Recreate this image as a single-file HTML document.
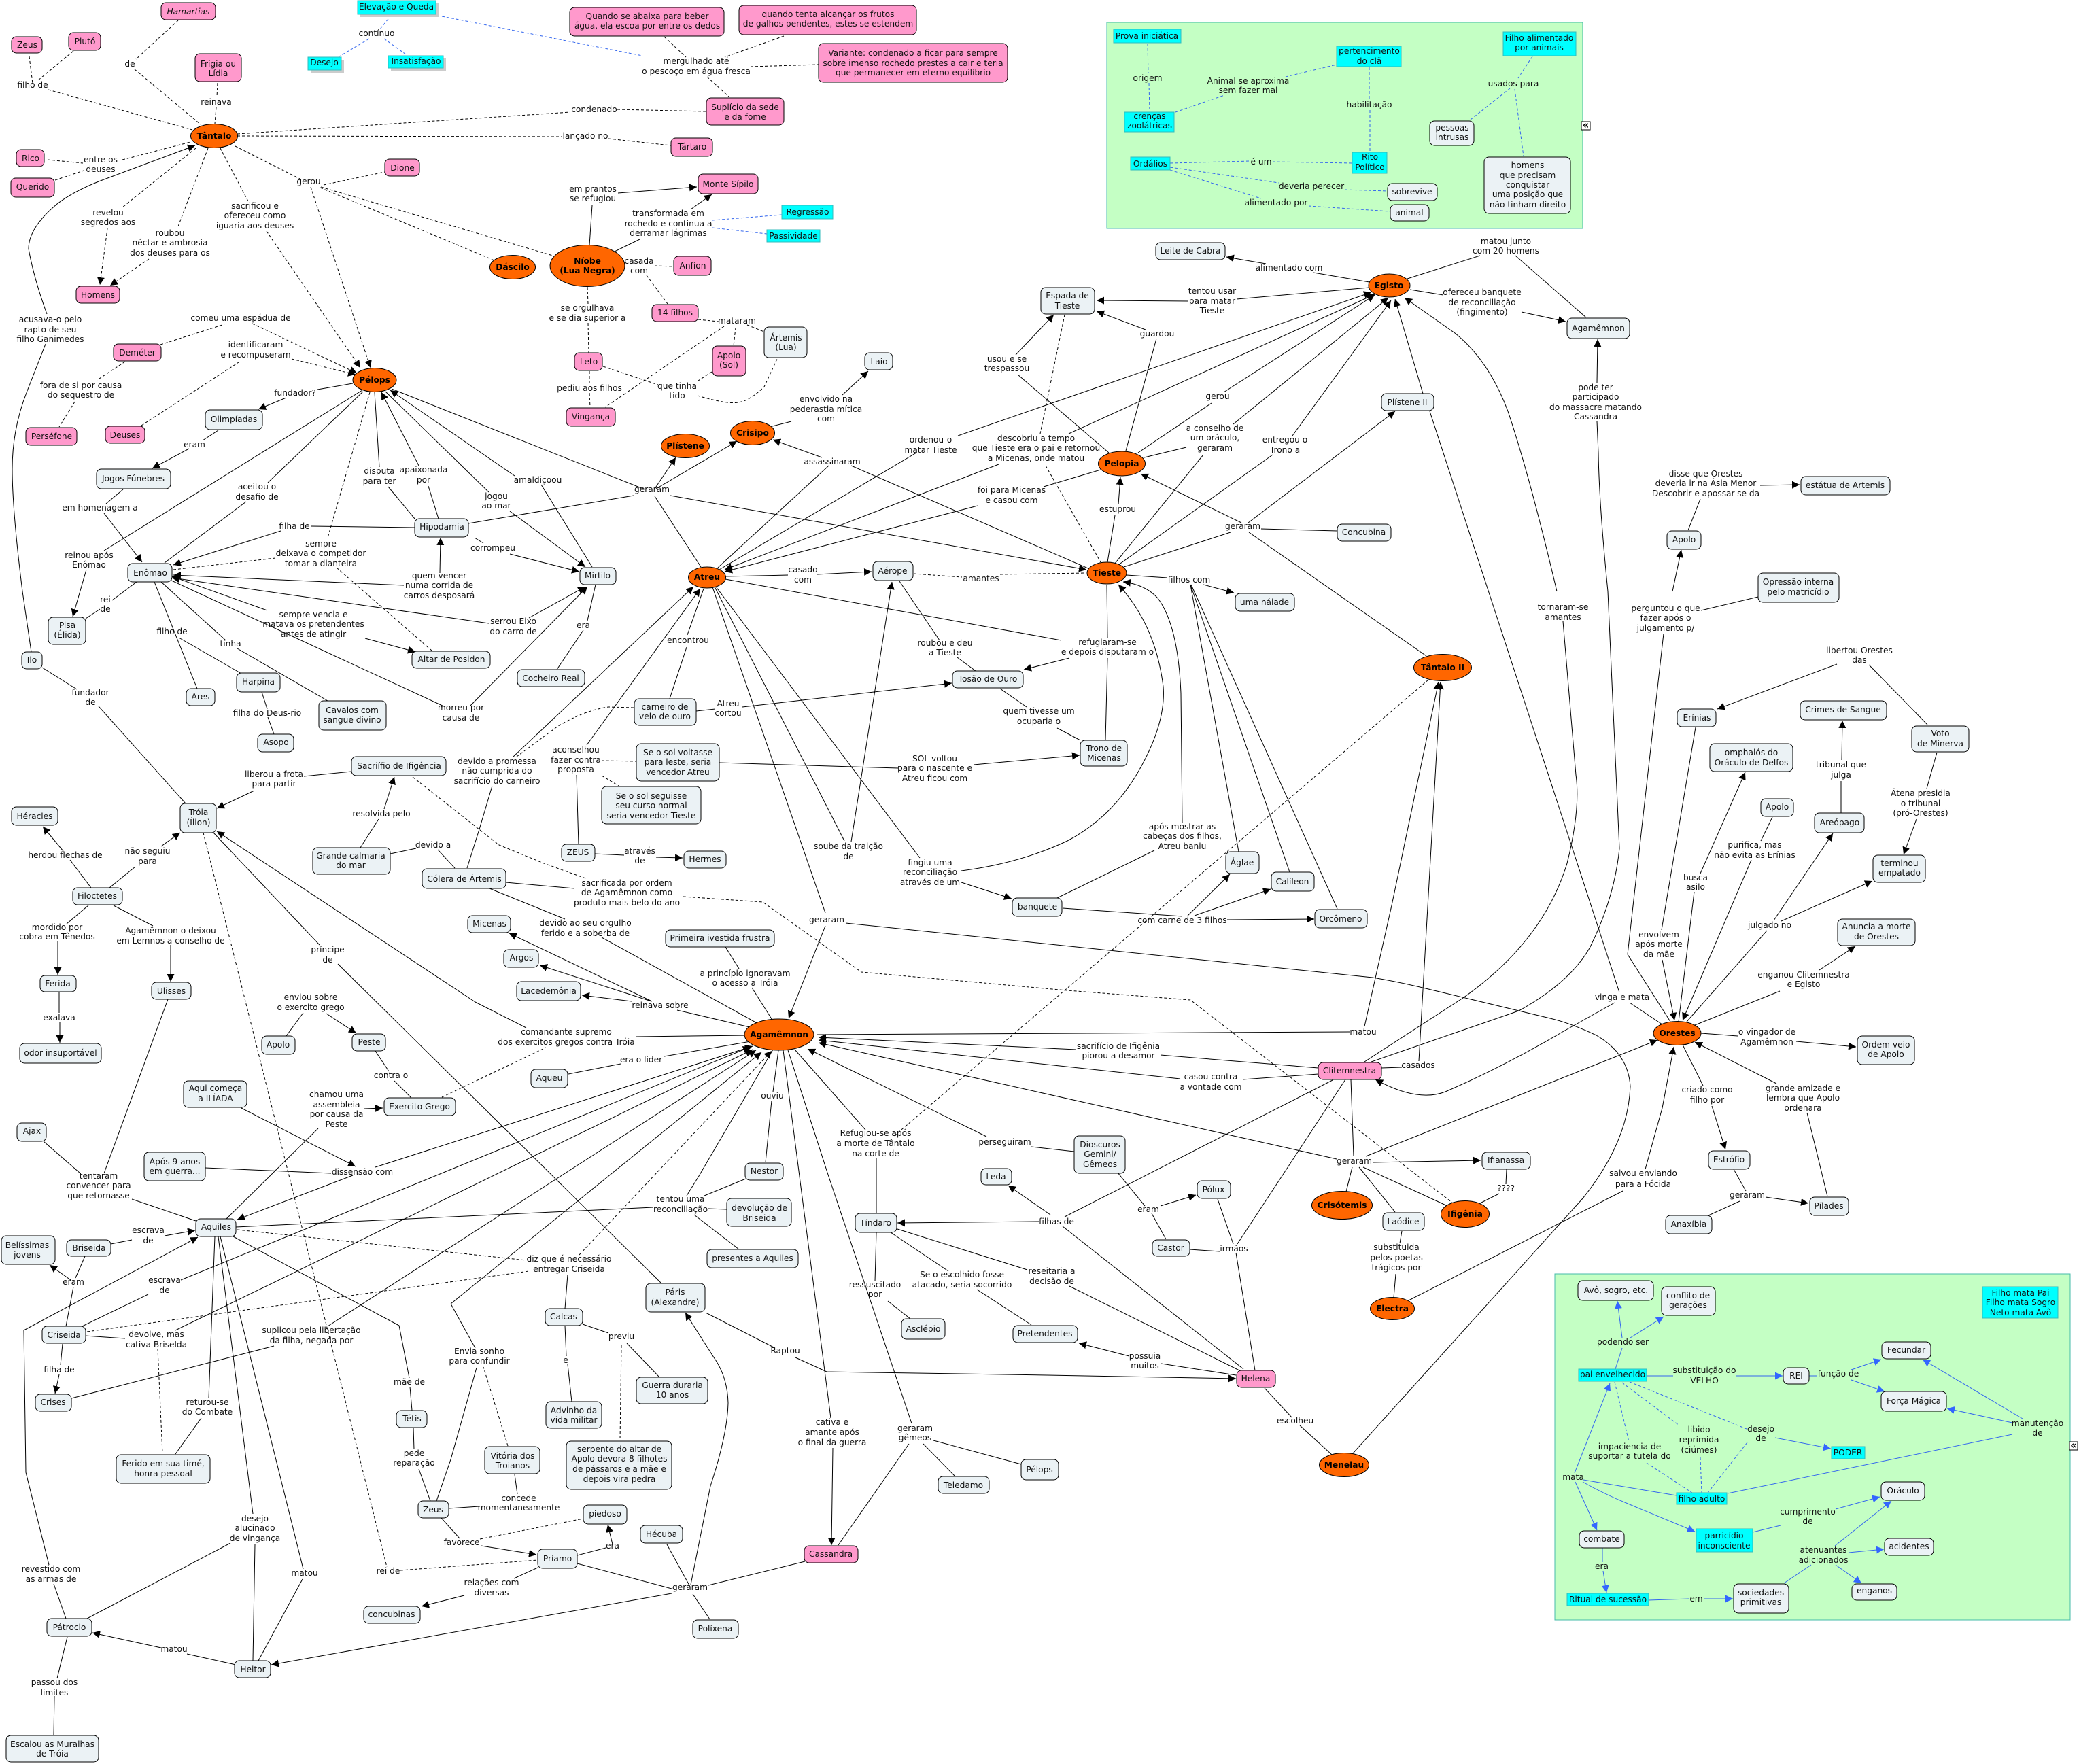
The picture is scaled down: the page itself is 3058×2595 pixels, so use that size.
<!DOCTYPE html>
<html lang="pt"><head><meta charset="utf-8"><title>Mapa conceitual</title>
<style>
html,body{margin:0;padding:0;background:#fff}
svg{display:block}
text{font:12.2px "DejaVu Sans","Liberation Sans",sans-serif;text-anchor:middle;dominant-baseline:central;fill:#111}
.b{font-weight:bold;fill:#000}
.i{font-style:italic}
path{fill:none;stroke:#000;stroke-width:1;stroke-linejoin:round}
.d path,.da path{stroke-dasharray:4 3}
.a path,.da path{marker-end:url(#m)}
.u path,.ua path,.ud path{stroke:#3366ee}
.ud path{stroke-dasharray:4 3}
.ua path{marker-end:url(#mb)}
.n rect{fill:#ebf2f5;stroke:#000;rx:7px;ry:7px}
.p rect{fill:#ff99cc;stroke:#000;rx:7px;ry:7px}
.c rect{fill:#00ffff;stroke:#33bbbb}
.sh rect{fill:#ccc}
.e ellipse{fill:#ff6600;stroke:#000}
</style></head><body>
<svg width="3058" height="2595" viewBox="0 0 3058 2595" xmlns="http://www.w3.org/2000/svg">
<defs>
<marker id="m" markerUnits="userSpaceOnUse" markerWidth="12" markerHeight="12" refX="11" refY="5.5" orient="auto"><path d="M0 0L11 5.5 0 11Z" style="fill:#000;stroke:none;stroke-dasharray:none"/></marker>
<marker id="mb" markerUnits="userSpaceOnUse" markerWidth="12" markerHeight="12" refX="11" refY="5.5" orient="auto"><path d="M0 0L11 5.5 0 11Z" style="fill:#3366ff;stroke:none;stroke-dasharray:none"/></marker>
</defs>
<rect x="1628" y="33" width="700" height="303" fill="#c4ffc4" stroke="#44bbaa"/>
<rect x="2287" y="1874" width="758" height="509" fill="#c4ffc4" stroke="#44bbaa"/>
<g class="sh"><rect x="530" y="5" width="115" height="20"/><rect x="457" y="88" width="49" height="19"/><rect x="575" y="86" width="81" height="18"/></g>

<g class="d">
<path d="M43 83L48 123"/><path d="M108 75L55 119"/><path d="M71 132L283 191"/><path d="M262 30L200 87"/><path d="M198 102L295 183"/>
<path d="M320 122L319 143"/><path d="M318 158L316 182"/><path d="M70 235L122 240"/><path d="M81 265L123 251"/><path d="M180 235L280 209"/>
<path d="M288 218L180 305"/><path d="M306 218L262 333"/><path d="M324 218L365 296"/><path d="M346 215L443 264"/><path d="M476 272L566 253"/>
<path d="M471 276L727 383"/><path d="M472 275L813 376"/><path d="M349 197L839 165"/><path d="M908 161L1039 164"/><path d="M349 200L826 201"/><path d="M895 204L987 214"/>
<path d="M236 507L330 477"/><path d="M208 626L354 531"/><path d="M184 532L143 559"/><path d="M110 591L87 628"/>
<path d="M544 577L482 791"/><path d="M405 821L255 838"/><path d="M495 835L635 957"/>
<path d="M932 1041L895 1040Q860 1045 821 1068L760 1113"/>
<path d="M607 1143L734 1243 800 1270 864 1293"/>
<path d="M1005 1319L1122 1327 1267 1430 1570 1457 1751 1471 2136 1769"/>
<path d="M650 1614L803 1541"/>
<path d="M299 1225L569 2305"/>
<path d="M128 1959L778 1870"/><path d="M349 1809L774 1854"/>
<path d="M747 2127L711 2011"/><path d="M706 2264L858 2234"/><path d="M589 2310L791 2295"/>
<path d="M232 1984L239 2138"/><path d="M914 1979L912 2119"/>
<path d="M977 54L1009 84"/><path d="M1153 53L1066 84"/><path d="M1104 98L1204 95"/><path d="M1040 113L1073 143"/>
<path d="M963 391L991 392"/><path d="M951 405L982 447"/><path d="M864 422L865 447"/><path d="M865 475L866 519"/><path d="M867 546L867 565"/><path d="M867 578L868 599"/>
<path d="M1027 470L1057 473"/><path d="M1099 478L1124 488"/><path d="M1082 482L1079 509"/><path d="M1065 480L890 599"/>
<path d="M887 539L968 566"/><path d="M1047 547L1024 562"/><path d="M1026 582Q1070 595 1086 592Q1102 590 1124 569L1144 526"/>
<path d="M1566 463L1530 638"/><path d="M1538 685L1619 827"/><path d="M1344 844L1415 849"/><path d="M1471 845L1597 843"/>
<path d="M885 1119L936 1120"/><path d="M885 1141L910 1156"/>
<path d="M2101 1000L1313 1673"/>
</g>
<g class="da">
<path d="M158 336L147 419"/><path d="M219 381L162 420"/><path d="M392 340L530 541"/><path d="M457 275L545 541"/>
<path d="M371 476L525 549"/><path d="M429 528L523 551"/>
<path d="M852 1846L1135 1546"/>
</g>
<g class="ud">
<path d="M650 24L945 82"/><path d="M571 28L558 44"/><path d="M543 57L499 83"/><path d="M565 57L597 80"/>
<path d="M1048 324L1150 316"/><path d="M1048 335L1128 344"/>
<path d="M1688 64L1689 108"/><path d="M1690 122L1691 164"/><path d="M1729 165L1801 140"/><path d="M1891 113L1966 95"/>
<path d="M2014 99L2014 147"/><path d="M2015 162L2015 223"/><path d="M2254 83L2233 115"/><path d="M2221 130L2163 176"/><path d="M2228 131L2241 230"/>
<path d="M1721 240L1839 237"/><path d="M1872 238L1989 240"/><path d="M1721 246L1881 269"/><path d="M1978 279L2041 281"/><path d="M1721 250L1855 292"/><path d="M1925 303L2045 311"/>
<path d="M2375 2033L2396 2121"/><path d="M2386 2034L2470 2097"/><path d="M2397 2033L2569 2102"/><path d="M2422 2152L2489 2196"/><path d="M2501 2144L2503 2196"/><path d="M2570 2122L2512 2196"/>
</g>
<g class="u">
<path d="M2376 2014L2386 1983"/><path d="M2423 2024L2461 2024"/><path d="M2661 2024L2673 2024"/><path d="M2541 2197L2960 2110"/>
<path d="M2329 2177L2466 2200"/><path d="M2578 2254L2619 2244"/><path d="M2624 2329L2664 2302"/><path d="M2357 2277L2357 2298"/><path d="M2425 2354L2485 2352"/>
</g>
<g class="ua">
<path d="M2386 1968L2379 1914"/><path d="M2398 1968L2447 1937"/><path d="M2554 2024L2622 2024"/><path d="M2723 2015L2767 2000"/><path d="M2723 2030L2772 2047"/>
<path d="M2975 2087L2828 2000"/><path d="M2960 2093L2864 2072"/><path d="M2611 2115L2693 2131"/>
<path d="M2316 2167L2368 2035"/><path d="M2317 2180L2349 2251"/><path d="M2328 2180Q2360 2198 2392 2211L2493 2253"/>
<path d="M2700 2220L2765 2202"/><path d="M2699 2274L2782 2208"/><path d="M2719 2284L2771 2279"/><path d="M2700 2302L2738 2329"/>
<path d="M2358 2311L2363 2343"/><path d="M2506 2352L2549 2352"/>
</g>
<g class="s">
<path d="M67 506L40 575Q18 630 18 690Q18 750 33 870L46 959"/>
<path d="M519 564L467 573"/><path d="M321 633L298 648"/><path d="M181 720L156 741"/>
<path d="M533 574L153 810"/><path d="M534 576L394 710"/><path d="M362 738L242 828"/>
<path d="M551 577L558 687"/><path d="M571 716L610 763"/><path d="M645 763L630 715"/>
<path d="M719 724L567 576"/><path d="M796 713L871 834"/>
<path d="M576 572L946 719"/><path d="M689 770L932 729"/><path d="M963 730L1031 834"/>
<path d="M610 776L457 774"/><path d="M698 791L711 799"/>
<path d="M201 856L165 883"/><path d="M147 896L126 910"/><path d="M227 856L290 1013"/><path d="M263 938L357 992"/><path d="M237 856L332 942"/><path d="M349 954L482 1031"/>
<path d="M250 853L655 1040"/><path d="M385 1018L393 1043"/><path d="M394 1055L403 1080"/>
<path d="M62 982L113 1014"/><path d="M145 1039L273 1182"/><path d="M517 1135L447 1142"/><path d="M530 1247L557 1205"/>
<path d="M574 1256L612 1248"/><path d="M644 1250L669 1277"/><path d="M687 1277L705 1220 724 1156"/>
<path d="M744 1298L845 1307"/><path d="M720 1307L831 1352"/>
<path d="M314 1225L470 1390"/><path d="M497 1418L972 1887"/>
<path d="M134 1306L103 1265"/><path d="M161 1306L199 1275"/><path d="M130 1332L98 1359"/><path d="M87 1459L87 1490"/><path d="M167 1332L225 1362"/>
<path d="M247 1470L153 1726"/><path d="M64 1679L118 1726"/><path d="M194 1764L288 1796"/>
<path d="M421 1524L446 1490"/><path d="M552 1546L572 1576"/><path d="M580 1590L605 1615"/>
<path d="M468 1660L333 1793"/><path d="M302 1718L487 1726"/>
<path d="M996 1486L1107 1512"/><path d="M885 1379L1117 1507"/>
<path d="M1067 1393L1087 1425"/><path d="M1106 1453L1135 1499"/><path d="M936 1525L1101 1523"/><path d="M836 1580L913 1565"/><path d="M977 1554L1104 1532"/>
<path d="M163 1830L194 1824"/><path d="M125 1848L111 1880"/><path d="M97 1951L108 1893"/><path d="M121 1951L218 1904"/><path d="M126 1965L184 1969"/>
<path d="M105 2057L403 1980"/>
<path d="M663 1918L699 1983"/><path d="M701 2012L663 2147 642 2208"/>
<path d="M343 1819L587 1950 602 2027"/><path d="M603 2040L606 2075"/><path d="M608 2100L609 2132"/><path d="M616 2161L633 2208"/>
<path d="M660 2219L705 2216"/><path d="M757 2169L761 2198"/><path d="M649 2233L676 2263"/><path d="M849 2288L891 2277"/><path d="M791 2306L756 2322"/>
<path d="M849 2300L988 2337"/><path d="M981 2272L1015 2334"/><path d="M1019 2345L1044 2382"/><path d="M1042 2332L1184 2297"/>
<path d="M347 2449L275 2433"/><path d="M321 1819L372 2227"/><path d="M339 2270L128 2381"/><path d="M375 2272L372 2443"/>
<path d="M324 1819L446 2308"/><path d="M445 2323L380 2443"/><path d="M316 1819L307 2057"/><path d="M296 2086L258 2139"/>
<path d="M92 1977L89 2008"/><path d="M97 2381L79 2330"/><path d="M99 2408L84 2469"/><path d="M80 2495L79 2553"/>
<path d="M831 1925L835 1875"/><path d="M831 1950L833 1995"/><path d="M835 2007L841 2062"/><path d="M857 1948L895 1961"/><path d="M922 1976L970 2026"/>
<path d="M1145 1545L1137 1606"/><path d="M1135 1619L1126 1710"/>
<path d="M1137 1544L1028 1730 1010 1759"/><path d="M1097 1734L1036 1759"/><path d="M961 1776L347 1805"/><path d="M1042 1778L1069 1779"/><path d="M1021 1787L1087 1838"/>
<path d="M1152 1545L1222 2086"/><path d="M1159 1545L1217 1725 1341 2094"/>
<path d="M1337 2124L1233 2273"/><path d="M1358 2124L1405 2172"/><path d="M1373 2119L1502 2154"/>
<path d="M1273 1662L1169 1544"/><path d="M1289 1704L1289 1785"/><path d="M1517 1687L1580 1694"/>
<path d="M1566 1790L1960 1589"/><path d="M1563 1804L1829 2014"/><path d="M1320 1808L1511 1868"/><path d="M1573 1892L1823 2016"/>
<path d="M1310 1813L1395 1870"/><path d="M1437 1897L1517 1949"/><path d="M1818 2023L1708 2006"/><path d="M1289 1813L1287 1885"/><path d="M1306 1914L1339 1940"/>
<path d="M1038 1931L1140 1983"/>
<path d="M1644 1725L1684 1774"/><path d="M1694 1785L1715 1823"/><path d="M1750 1838L1794 1841"/><path d="M1791 1764L1814 1830"/><path d="M1818 1843L1846 2016"/><path d="M1820 1830L1979 1588"/>
<path d="M1860 2042L1900 2085"/><path d="M1912 2097L1959 2140"/>
<path d="M1990 2138L2328 1763Q2395 1680 2398 1598Q2395 1550 2348 1523Q2310 1505 2280 1498L2101 1455Q2060 1445 2019 1438L1244 1358"/>
<path d="M1045 855L1214 1343"/>
<path d="M867 361L871 302"/><path d="M904 370L941 352"/>
<path d="M1136 627L1164 620"/><path d="M1252 685L1605 838"/><path d="M1219 685L1056 835"/><path d="M1058 838L1348 666"/>
<path d="M1535 716L1619 691"/><path d="M1497 551L1631 666"/>
<path d="M2014 415L1932 401"/><path d="M2014 423L1819 440"/><path d="M1656 663L1701 498"/><path d="M1674 666L1782 593"/>
<path d="M1683 673L1745 658"/><path d="M1639 830L1770 669"/><path d="M1645 831L1872 669"/>
<path d="M1653 834L1810 783"/><path d="M1967 781L1855 778"/><path d="M1837 783L2098 965"/>
<path d="M1629 827L1640 758"/><path d="M1657 846L1717 850"/>
<path d="M1751 860L1822 1253"/><path d="M1751 860L1897 1283"/><path d="M1752 860L1967 1337"/>
<path d="M1698 1251L1555 1321"/><path d="M1563 1336L1739 1348"/>
<path d="M1067 852L1561 942"/><path d="M1629 938L1628 860"/><path d="M1629 968L1626 1089"/>
<path d="M1471 1013L1510 1040"/><path d="M1555 1071L1589 1089"/><path d="M1323 855L1382 942"/><path d="M1408 967L1435 987"/>
<path d="M1067 848L1159 846"/><path d="M1051 863L1242 1237"/><path d="M1053 863L1353 1262"/>
<path d="M985 1028L1010 952"/><path d="M1011 934L1035 866"/><path d="M1024 1046L1052 1043"/>
<path d="M876 860L864 913"/><path d="M858 927L819 985"/><path d="M848 1140L851 1242"/><path d="M875 1256L918 1258"/><path d="M1058 1122L1321 1130"/>
<path d="M1202 1522L1985 1518"/><path d="M2032 1571L2062 1570"/><path d="M1707 1552L1939 1571"/><path d="M1828 1588L1939 1580"/>
<path d="M1987 1588L1991 1701"/><path d="M2216 1720L2215 1742"/><path d="M2205 1756L2177 1770"/>
<path d="M2062 1811L2059 1829"/><path d="M2053 1874L2050 1909"/><path d="M1989 1717L1980 1753"/><path d="M1999 1717L2052 1783"/><path d="M2005 1717L2129 1774"/>
<path d="M2072 1913L2387 1752"/>
<path d="M2397 1475L2445 1507"/>
<path d="M2007 1562L2152 1468Q2270 1385 2305 1270Q2325 1190 2318 1140L2299 914"/>
<path d="M2017 1562L2234 1487Q2310 1445 2339 1393Q2375 1320 2382 1248L2365 870Q2352 740 2351 666L2349 620"/>
<path d="M2074 426L2123 434"/><path d="M2070 410L2177 376"/><path d="M2229 376L2333 467"/>
<path d="M2103 605L2382 1460"/>
<path d="M2501 734L2483 780"/><path d="M2586 878L2502 898"/><path d="M2447 932L2394 1404 2457 1503"/><path d="M2749 978L2835 1066"/>
<path d="M2708 1196L2708 1149"/><path d="M2849 1107L2834 1160"/><path d="M2494 1070L2444 1368"/><path d="M2492 1312L2469 1503"/>
<path d="M2607 1202L2590 1237"/><path d="M2599 1369L2481 1503"/><path d="M2618 1458L2493 1508"/><path d="M2502 1520L2556 1524"/><path d="M2475 1537L2505 1597"/>
<path d="M2658 1637L2688 1760"/><path d="M2550 1720L2568 1752"/><path d="M2513 1788L2559 1767"/>
</g>
<g class="a">
<path d="M69 462Q50 410 42 366Q42 335 84 300Q110 280 153 264L287 214"/>
<path d="M421 585L380 602"/><path d="M278 660L224 689"/><path d="M153 755L209 827"/><path d="M127 838L107 907"/>
<path d="M616 685L561 577"/><path d="M750 752L861 834"/><path d="M757 700L574 574"/>
<path d="M963 719L994 673"/><path d="M965 719L1084 649"/><path d="M986 729L1598 838"/>
<path d="M413 781L255 831"/><path d="M647 843L648 791"/><path d="M594 861L255 846"/><path d="M750 815L852 841"/>
<path d="M393 898L253 848"/><path d="M537 939L611 959"/><path d="M691 1039L864 863"/><path d="M719 917L253 850"/><path d="M778 909L861 863"/>
<path d="M374 1163L319 1189"/><path d="M565 1190L580 1143"/>
<path d="M754 1114L1020 863"/><path d="M863 1096L1030 866"/>
<path d="M959 1473L749 1373"/><path d="M958 1473L794 1420"/><path d="M929 1473L856 1464"/>
<path d="M774 1512L699 1474 319 1223"/>
<path d="M93 1252L63 1216"/><path d="M237 1245L265 1225"/><path d="M85 1384L85 1434"/><path d="M88 1504L88 1534"/><path d="M251 1390L251 1444"/>
<path d="M480 1491L524 1520"/><path d="M536 1631L563 1630"/><path d="M355 1630L523 1716"/>
<path d="M552 1717L1107 1539"/><path d="M519 1729L349 1794"/>
<path d="M242 1818L287 1810"/><path d="M104 1883L73 1861"/><path d="M266 1883L1104 1540"/><path d="M258 1957L1107 1544"/><path d="M482 1951L1112 1545"/><path d="M663 1918L1120 1548"/>
<path d="M708 2274L789 2287"/><path d="M901 2272L894 2243"/><path d="M683 2347L620 2363"/>
<path d="M988 2344L399 2449"/>
<path d="M1016 2331L1045 2186Q1070 2110 1071 2064Q1070 2025 1050 1997L1008 1931"/>
<path d="M237 2424L136 2402"/><path d="M87 2022L81 2050"/>
<path d="M72 2302L38 2166 35 1957 291 1820"/>
<path d="M1225 2130L1223 2273"/>
<path d="M1451 1672L1188 1543"/><path d="M1529 1797L1320 1799"/><path d="M1545 1787L1483 1744"/>
<path d="M1661 1995L1587 1976"/><path d="M1170 1997L1216 2018 1540 2023 1818 2028"/>
<path d="M1707 1774L1759 1758"/>
<path d="M1214 1362L1160 1498"/>
<path d="M909 284L1025 275"/><path d="M1016 308L1047 286"/>
<path d="M1239 581L1277 546"/><path d="M1209 673L1137 647"/>
<path d="M1409 641L2017 430"/><path d="M1469 683L1066 838"/><path d="M1572 638L2022 433"/>
<path d="M1438 744L1066 841"/><path d="M1494 522L1550 463"/>
<path d="M1862 388L1804 378"/><path d="M1748 443L1613 442"/><path d="M1685 485L1613 458"/>
<path d="M1800 577L2022 434"/><path d="M1814 624L2042 438"/><path d="M1901 641L2046 442"/><path d="M2093 579L2052 440"/>
<path d="M1836 769L2052 605"/><path d="M1826 769L1678 697"/><path d="M1645 742L1648 702"/>
<path d="M1770 860L1815 872"/>
<path d="M1739 1210L1737 1020Q1733 920 1703 880Q1685 860 1652 856"/>
<path d="M1747 1347L1809 1286"/><path d="M1757 1347L1869 1308"/><path d="M1805 1353L1933 1352"/>
<path d="M1573 968L1506 985"/><path d="M1202 845L1282 841"/><path d="M1252 1238L1312 856"/>
<path d="M1414 1281Q1500 1270 1570 1237Q1640 1200 1680 1125Q1715 1060 1711 1010Q1700 920 1645 860"/>
<path d="M1414 1298L1488 1322"/><path d="M1092 1040L1400 1005"/><path d="M965 1261L1004 1262"/><path d="M1432 1125L1588 1111"/>
<path d="M2007 1510L2047 1332 2116 1003"/><path d="M2087 1561L2119 1003"/>
<path d="M1583 1544L1204 1526"/><path d="M1736 1587L1204 1530"/><path d="M1966 1705L1204 1534"/><path d="M2019 1710L2178 1707"/>
<path d="M2009 1701L2438 1530"/><path d="M2420 1720L2445 1630 2462 1540"/>
<path d="M2375 1475L2300 1517Q2210 1570 2126 1606Q2085 1622 2023 1588"/>
<path d="M2290 870Q2250 700 2218 605Q2190 530 2140 490L2066 438"/>
<path d="M2349 563L2350 499"/><path d="M2238 459L2303 473"/>
<path d="M2589 714L2647 713"/><path d="M2460 870L2473 809"/><path d="M2702 977L2526 1043"/>
<path d="M2709 1118L2710 1060"/><path d="M2819 1205L2800 1257"/><path d="M2445 1412L2463 1501"/><path d="M2501 1285L2567 1136"/>
<path d="M2576 1265L2475 1501"/><path d="M2609 1354L2696 1226"/><path d="M2620 1355L2754 1296"/><path d="M2676 1427L2729 1392"/>
<path d="M2642 1532L2730 1540"/><path d="M2518 1627L2538 1691"/><path d="M2613 1594L2493 1533"/><path d="M2597 1761L2660 1770"/>
</g>

<g class="c">
<rect x="526" y="1" width="115" height="20"/><rect x="453" y="84" width="49" height="19"/><rect x="571" y="82" width="81" height="18"/>
<rect x="1150" y="302" width="75" height="20"/><rect x="1128" y="338" width="78" height="18"/>
<rect x="1638" y="43" width="99" height="20"/><rect x="1966" y="68" width="95" height="30"/><rect x="2211" y="47" width="107" height="35"/>
<rect x="1654" y="165" width="73" height="29"/><rect x="1663" y="231" width="58" height="19"/><rect x="1989" y="224" width="51" height="31"/>
<rect x="2916" y="1893" width="111" height="46"/><rect x="2322" y="2014" width="100" height="18"/><rect x="2694" y="2128" width="49" height="18"/>
<rect x="2466" y="2196" width="74" height="17"/><rect x="2495" y="2249" width="83" height="34"/><rect x="2305" y="2344" width="120" height="18"/>
</g>
<g class="p">
<rect x="237" y="4" width="80" height="25"/><rect x="17" y="54" width="45" height="24"/><rect x="101" y="48" width="47" height="26"/><rect x="287" y="79" width="68" height="41"/>
<rect x="24" y="220" width="41" height="25"/><rect x="16" y="262" width="64" height="28"/><rect x="112" y="421" width="64" height="25"/><rect x="566" y="234" width="51" height="25"/>
<rect x="167" y="506" width="70" height="25"/><rect x="38" y="629" width="75" height="26"/><rect x="155" y="627" width="58" height="25"/>
<rect x="838" y="11" width="227" height="42"/><rect x="1087" y="8" width="261" height="43"/><rect x="1204" y="64" width="278" height="57"/>
<rect x="1039" y="144" width="114" height="40"/><rect x="987" y="203" width="61" height="27"/><rect x="1027" y="256" width="88" height="29"/>
<rect x="991" y="377" width="55" height="28"/><rect x="959" y="448" width="68" height="25"/><rect x="845" y="519" width="41" height="26"/><rect x="833" y="600" width="72" height="27"/><rect x="1048" y="509" width="49" height="44"/>
<rect x="1183" y="2274" width="79" height="25"/><rect x="1939" y="1563" width="93" height="25"/><rect x="1819" y="2016" width="57" height="25"/>
</g>
<g class="n">
<rect x="302" y="603" width="84" height="29"/><rect x="142" y="690" width="109" height="29"/><rect x="610" y="763" width="79" height="27"/><rect x="188" y="829" width="65" height="27"/>
<rect x="71" y="908" width="55" height="40"/><rect x="274" y="1013" width="42" height="25"/><rect x="348" y="990" width="64" height="28"/><rect x="379" y="1080" width="53" height="26"/>
<rect x="469" y="1031" width="99" height="43"/><rect x="606" y="958" width="115" height="25"/><rect x="32" y="959" width="30" height="25"/><rect x="265" y="1182" width="53" height="43"/>
<rect x="517" y="1113" width="139" height="28"/><rect x="460" y="1247" width="114" height="39"/><rect x="621" y="1278" width="123" height="29"/>
<rect x="688" y="1347" width="63" height="25"/><rect x="741" y="1397" width="51" height="26"/><rect x="760" y="1444" width="94" height="28"/><rect x="979" y="1368" width="160" height="25"/><rect x="781" y="1573" width="54" height="27"/>
<rect x="107" y="1306" width="73" height="25"/><rect x="17" y="1187" width="68" height="27"/><rect x="59" y="1435" width="53" height="24"/><rect x="29" y="1535" width="120" height="29"/><rect x="223" y="1445" width="58" height="25"/>
<rect x="385" y="1524" width="49" height="27"/><rect x="518" y="1521" width="49" height="25"/><rect x="565" y="1615" width="105" height="26"/><rect x="270" y="1590" width="93" height="39"/><rect x="212" y="1695" width="90" height="42"/><rect x="25" y="1652" width="43" height="27"/>
<rect x="288" y="1793" width="59" height="26"/><rect x="98" y="1824" width="65" height="24"/><rect x="2" y="1818" width="79" height="42"/><rect x="62" y="1951" width="64" height="25"/><rect x="52" y="2051" width="53" height="25"/>
<rect x="171" y="2140" width="138" height="42"/><rect x="713" y="2128" width="81" height="40"/><rect x="615" y="2208" width="45" height="25"/><rect x="583" y="2075" width="45" height="25"/>
<rect x="535" y="2363" width="83" height="25"/><rect x="345" y="2443" width="53" height="25"/><rect x="69" y="2381" width="66" height="26"/><rect x="9" y="2553" width="136" height="39"/>
<rect x="791" y="2279" width="58" height="28"/><rect x="858" y="2214" width="64" height="28"/><rect x="942" y="2244" width="62" height="26"/><rect x="1019" y="2383" width="67" height="27"/>
<rect x="950" y="1888" width="87" height="42"/><rect x="802" y="1925" width="55" height="25"/><rect x="803" y="2062" width="82" height="39"/><rect x="936" y="2026" width="105" height="39"/><rect x="833" y="2120" width="155" height="71"/>
<rect x="1096" y="1711" width="56" height="25"/><rect x="1069" y="1763" width="95" height="41"/><rect x="1040" y="1838" width="134" height="27"/>
<rect x="1380" y="2172" width="75" height="25"/><rect x="1502" y="2147" width="55" height="30"/>
<rect x="1258" y="1785" width="61" height="28"/><rect x="1580" y="1671" width="75" height="55"/><rect x="1443" y="1719" width="45" height="24"/><rect x="1490" y="1950" width="95" height="25"/><rect x="1326" y="1940" width="64" height="30"/>
<rect x="1761" y="1737" width="49" height="26"/><rect x="1695" y="1824" width="55" height="24"/>
<rect x="853" y="835" width="53" height="25"/><rect x="1124" y="481" width="63" height="45"/><rect x="1272" y="519" width="41" height="25"/>
<rect x="1531" y="423" width="79" height="39"/><rect x="1700" y="357" width="102" height="25"/><rect x="2032" y="579" width="77" height="25"/><rect x="1967" y="771" width="79" height="25"/>
<rect x="1817" y="873" width="87" height="26"/><rect x="1803" y="1253" width="49" height="32"/><rect x="1870" y="1283" width="63" height="28"/><rect x="1934" y="1338" width="77" height="27"/><rect x="1489" y="1321" width="73" height="27"/>
<rect x="1589" y="1089" width="69" height="38"/><rect x="1401" y="987" width="104" height="25"/><rect x="1284" y="826" width="59" height="28"/><rect x="933" y="1028" width="91" height="39"/>
<rect x="761" y="985" width="99" height="25"/><rect x="936" y="1094" width="122" height="55"/><rect x="885" y="1157" width="146" height="55"/><rect x="826" y="1242" width="49" height="25"/><rect x="1006" y="1252" width="62" height="25"/>
<rect x="2180" y="1695" width="71" height="25"/><rect x="2034" y="1784" width="61" height="26"/>
<rect x="2305" y="468" width="92" height="30"/><rect x="2649" y="701" width="131" height="27"/><rect x="2452" y="781" width="50" height="27"/><rect x="2586" y="843" width="119" height="43"/>
<rect x="2467" y="1043" width="57" height="26"/><rect x="2648" y="1031" width="127" height="28"/><rect x="2515" y="1094" width="122" height="41"/><rect x="2812" y="1068" width="84" height="38"/>
<rect x="2590" y="1175" width="48" height="26"/><rect x="2669" y="1196" width="73" height="29"/><rect x="2755" y="1258" width="77" height="40"/><rect x="2703" y="1352" width="114" height="39"/><rect x="2732" y="1524" width="84" height="42"/>
<rect x="2513" y="1693" width="61" height="27"/><rect x="2662" y="1761" width="57" height="27"/><rect x="2450" y="1788" width="68" height="27"/>
<rect x="2103" y="178" width="65" height="36"/><rect x="2183" y="231" width="127" height="83"/><rect x="2041" y="270" width="73" height="25"/><rect x="2045" y="301" width="57" height="24"/>
<rect x="2321" y="1884" width="111" height="29"/><rect x="2444" y="1893" width="79" height="42"/><rect x="2768" y="1974" width="72" height="25"/><rect x="2767" y="2047" width="96" height="29"/><rect x="2623" y="2012" width="38" height="24"/>
<rect x="2767" y="2180" width="64" height="27"/><rect x="2323" y="2252" width="66" height="25"/><rect x="2772" y="2263" width="72" height="25"/><rect x="2724" y="2330" width="66" height="24"/><rect x="2550" y="2330" width="81" height="43"/>
</g>
<g class="e">
<ellipse cx="315" cy="200" rx="34.5" ry="17.5"/><ellipse cx="754" cy="393" rx="33.5" ry="17.5"/><ellipse cx="551" cy="559" rx="32" ry="17.5"/><ellipse cx="864" cy="391" rx="55" ry="30.5"/>
<ellipse cx="1040" cy="849.5" rx="27.5" ry="15.5"/><ellipse cx="1107" cy="637" rx="32.5" ry="17.5"/><ellipse cx="1008" cy="656" rx="35.5" ry="17.5"/>
<ellipse cx="1146" cy="1522" rx="51" ry="23"/><ellipse cx="2043.5" cy="420" rx="30.5" ry="17"/><ellipse cx="1650" cy="682" rx="34.5" ry="18"/><ellipse cx="1628" cy="843" rx="29" ry="16"/>
<ellipse cx="2122" cy="982" rx="42.5" ry="19.5"/><ellipse cx="2155" cy="1786" rx="35.5" ry="19.5"/><ellipse cx="1974" cy="1773" rx="44.5" ry="20.5"/><ellipse cx="2048" cy="1925" rx="32.5" ry="16.5"/>
<ellipse cx="1977" cy="2155" rx="36.5" ry="17.5"/><ellipse cx="2467" cy="1520" rx="35" ry="17.5"/>
</g>
<rect x="2326" y="179" width="13" height="12" fill="#fff" stroke="#000"/><text class="b" x="2332.5" y="184" style="font-size:15px">«</text>
<rect x="3044" y="2121" width="12" height="12" fill="#fff" stroke="#000"/><text class="b" x="3050" y="2126" style="font-size:15px">«</text>

<!-- node text -->
<text class="i" x="277" y="17">Hamartias</text><text x="40" y="66">Zeus</text><text x="125" y="61">Plutó</text><text x="321" y="94">Frígia ou</text><text x="321" y="108">Lídia</text>
<text class="b" x="315" y="200">Tântalo</text><text x="45" y="233">Rico</text><text x="48" y="275">Querido</text><text x="144" y="434">Homens</text><text x="592" y="247">Dione</text><text class="b" x="754" y="393">Dáscilo</text>
<text x="202" y="519">Deméter</text><text x="76" y="642">Perséfone</text><text x="184" y="640">Deuses</text><text class="b" x="551" y="559">Pélops</text><text x="344" y="617">Olimpíadas</text><text x="196" y="704">Jogos Fúnebres</text><text x="650" y="775">Hipodamia</text><text x="221" y="843">Enômao</text>
<text x="583" y="10">Elevação e Queda</text><text x="477" y="92">Desejo</text><text x="612" y="90">Insatisfação</text>
<text x="99" y="920">Pisa</text><text x="99" y="934">(Élida)</text><text x="295" y="1025">Ares</text><text x="380" y="1003">Harpina</text><text x="406" y="1092">Asopo</text><text x="518" y="1045">Cavalos com</text><text x="518" y="1059">sangue divino</text><text x="664" y="970">Altar de Posidon</text><text x="47" y="971">Ilo</text>
<text x="292" y="1195">Tróia</text><text x="292" y="1210">(Ílion)</text><text x="587" y="1127">Sacriífio de Ifigência</text><text x="516" y="1259">Grande calmaria</text><text x="516" y="1273">do mar</text><text x="683" y="1293">Cólera de Ártemis</text>
<text x="720" y="1359">Micenas</text><text x="767" y="1409">Argos</text><text x="807" y="1458">Lacedemônia</text><text x="1059" y="1380">Primeira ivestida frustra</text><text class="b" x="1146" y="1522">Agamêmnon</text><text x="808" y="1586">Aqueu</text>
<text x="143" y="1318">Filoctetes</text><text x="51" y="1201">Héracles</text><text x="85" y="1447">Ferida</text><text x="89" y="1549">odor insuportável</text><text x="252" y="1458">Ulisses</text>
<text x="409" y="1537">Apolo</text><text x="543" y="1533">Peste</text><text x="617" y="1628">Exercito Grego</text><text x="317" y="1601">Aqui começa</text><text x="317" y="1616">a ILÍADA</text><text x="257" y="1709">Após 9 anos</text><text x="257" y="1723">em guerra...</text><text x="47" y="1664">Ajax</text>
<text x="318" y="1805">Aquiles</text><text x="131" y="1836">Briseida</text><text x="40" y="1832">Belíssimas</text><text x="40" y="1846">jovens</text><text x="94" y="1964">Criseida</text><text x="78" y="2063">Crises</text><text x="240" y="2153">Ferido em sua timé,</text><text x="240" y="2168">honra pessoal</text>
<text x="754" y="2142">Vitória dos</text><text x="754" y="2156">Troianos</text><text x="637" y="2221">Zeus</text><text x="606" y="2087">Tétis</text><text x="576" y="2375">concubinas</text><text x="372" y="2456">Heitor</text><text x="102" y="2394">Pátroclo</text><text x="77" y="2566">Escalou as Muralhas</text><text x="77" y="2580">de Tróia</text>
<text x="820" y="2293">Príamo</text><text x="890" y="2227">piedoso</text><text x="973" y="2257">Hécuba</text><text x="1052" y="2396">Políxena</text><text x="1222" y="2286">Cassandra</text>
<text x="993" y="1901">Páris</text><text x="993" y="1916">(Alexandre)</text><text x="829" y="1937">Calcas</text><text x="844" y="2075">Advinho da</text><text x="844" y="2089">vida militar</text><text x="989" y="2038">Guerra duraria</text><text x="989" y="2052">10 anos</text>
<text x="911" y="2132">serpente do altar de</text><text x="911" y="2146">Apolo devora 8 filhotes</text><text x="911" y="2161">de pássaros e a mãe e</text><text x="911" y="2176">depois vira pedra</text>
<text x="1124" y="1723">Nestor</text><text x="1117" y="1777">devolução de</text><text x="1117" y="1792">Briseida</text><text x="1107" y="1851">presentes a Aquiles</text><text x="1417" y="2185">Teledamo</text><text x="1529" y="2162">Pélops</text>
<text x="1288" y="1799">Tíndaro</text><text x="1618" y="1684">Dioscuros</text><text x="1618" y="1698">Gemini/</text><text x="1618" y="1713">Gêmeos</text><text x="1465" y="1731">Leda</text><text x="1537" y="1962">Pretendentes</text><text x="1358" y="1955">Asclépio</text><text x="1847" y="2028">Helena</text><text x="1785" y="1750">Pólux</text><text x="1722" y="1836">Castor</text><text class="b" x="1977" y="2155">Menelau</text>
<text x="952" y="24">Quando se abaixa para beber</text><text x="952" y="38">água, ela escoa por entre os dedos</text><text x="1218" y="21">quando tenta alcançar os frutos</text><text x="1218" y="35">de galhos pendentes, estes se estendem</text>
<text x="1343" y="78">Variante: condenado a ficar para sempre</text><text x="1343" y="93">sobre imenso rochedo prestes a cair e teria</text><text x="1343" y="107">que permanecer em eterno equilíbrio</text>
<text x="1096" y="158">Suplício da sede</text><text x="1096" y="172">e da fome</text><text x="1018" y="216">Tártaro</text><text x="1071" y="271">Monte Sípilo</text><text x="1188" y="312">Regressão</text><text x="1167" y="347">Passividade</text>
<text class="b" x="864" y="384">Níobe</text><text class="b" x="864" y="398">(Lua Negra)</text><text x="1019" y="391">Anfíon</text><text x="993" y="460">14 filhos</text><text x="866" y="532">Leto</text><text x="869" y="613">Vingança</text><text x="1072" y="523">Apolo</text><text x="1072" y="537">(Sol)</text><text x="1156" y="497">Ártemis</text><text x="1156" y="511">(Lua)</text><text x="1293" y="532">Laio</text>
<text class="b" x="1107" y="637">Crisipo</text><text class="b" x="1008" y="656">Plístene</text><text x="879" y="847">Mirtilo</text><text class="b" x="1040" y="849">Atreu</text><text x="1313" y="840">Aérope</text>
<text x="1570" y="435">Espada de</text><text x="1570" y="450">Tieste</text><text x="1751" y="369">Leite de Cabra</text><text class="b" x="2043" y="420">Egisto</text><text class="b" x="1650" y="682">Pelopia</text><text x="2070" y="592">Plístene II</text><text x="2006" y="783">Concubina</text><text class="b" x="1628" y="843">Tieste</text>
<text x="1860" y="886">uma náiade</text><text class="b" x="2122" y="982">Tântalo II</text><text x="1827" y="1269">Áglae</text><text x="1901" y="1297">Calíleon</text><text x="1972" y="1352">Orcômeno</text><text x="1526" y="1334">banquete</text><text x="1624" y="1101">Trono de</text><text x="1624" y="1115">Micenas</text><text x="1453" y="999">Tosão de Ouro</text>
<text x="978" y="1040">carneiro de</text><text x="978" y="1054">velo de ouro</text><text x="810" y="998">Cocheiro Real</text><text x="997" y="1107">Se o sol voltasse</text><text x="997" y="1121">para leste, seria</text><text x="997" y="1136">vencedor Atreu</text><text x="958" y="1171">Se o sol seguisse</text><text x="958" y="1185">seu curso normal</text><text x="958" y="1200">seria vencedor Tieste</text><text x="850" y="1254">ZEUS</text><text x="1037" y="1264">Hermes</text>
<text x="1985" y="1575">Clitemnestra</text><text x="2215" y="1707">Ifianassa</text><text class="b" x="2155" y="1786">Ifigênia</text><text class="b" x="1974" y="1773">Crisótemis</text><text x="2064" y="1797">Laódice</text><text class="b" x="2048" y="1925">Electra</text>
<text x="2351" y="483">Agamêmnon</text><text x="2714" y="714">estátua de Artemis</text><text x="2477" y="794">Apolo</text><text x="2645" y="856">Opressão interna</text><text x="2645" y="871">pelo matricídio</text><text x="2496" y="1056">Erínias</text><text x="2711" y="1044">Crimes de Sangue</text><text x="2576" y="1107">omphalós do</text><text x="2576" y="1122">Oráculo de Delfos</text><text x="2854" y="1079">Voto</text><text x="2854" y="1094">de Minerva</text>
<text x="2614" y="1187">Apolo</text><text x="2706" y="1210">Areópago</text><text x="2794" y="1270">terminou</text><text x="2794" y="1284">empatado</text><text x="2760" y="1363">Anuncia a morte</text><text x="2760" y="1378">de Orestes</text><text x="2774" y="1537">Ordem veio</text><text x="2774" y="1551">de Apolo</text><text class="b" x="2467" y="1520">Orestes</text><text x="2543" y="1706">Estrófio</text><text x="2690" y="1774">Pílades</text><text x="2484" y="1801">Anaxíbia</text>
<text x="1687" y="53">Prova iniciática</text><text x="2014" y="75">pertencimento</text><text x="2014" y="90">do clã</text><text x="2264" y="56">Filho alimentado</text><text x="2264" y="70">por animais</text><text x="1691" y="171">crenças</text><text x="1691" y="185">zoolátricas</text><text x="1692" y="241">Ordálios</text><text x="2015" y="231">Rito</text><text x="2015" y="246">Político</text>
<text x="2136" y="188">pessoas</text><text x="2136" y="202">intrusas</text><text x="2247" y="243">homens</text><text x="2247" y="258">que precisam</text><text x="2247" y="272">conquistar</text><text x="2247" y="286">uma posição que</text><text x="2247" y="301">não tinham direito</text><text x="2077" y="282">sobrevive</text><text x="2073" y="313">animal</text>
<text x="2377" y="1898">Avô, sogro, etc.</text><text x="2483" y="1906">conflito de</text><text x="2483" y="1920">gerações</text><text x="2972" y="1902">Filho mata Pai</text><text x="2972" y="1916">Filho mata Sogro</text><text x="2972" y="1931">Neto mata Avô</text><text x="2804" y="1986">Fecundar</text><text x="2815" y="2061">Força Mágica</text><text x="2372" y="2022">pai envelhecido</text><text x="2642" y="2024">REI</text><text x="2718" y="2137">PODER</text><text x="2503" y="2205">filho adulto</text><text x="2799" y="2193">Oráculo</text><text x="2536" y="2259">parricídio</text><text x="2536" y="2274">inconsciente</text><text x="2356" y="2264">combate</text><text x="2808" y="2275">acidentes</text><text x="2757" y="2340">enganos</text><text x="2365" y="2353">Ritual de sucessão</text><text x="2590" y="2343">sociedades</text><text x="2590" y="2357">primitivas</text>

<!-- link labels -->
<text x="191" y="94">de</text><text x="48" y="125">filho de</text><text x="318" y="150">reinava</text><text x="554" y="49">contínuo</text><text x="148" y="235">entre os</text><text x="148" y="249">deuses</text><text x="159" y="313">revelou</text><text x="159" y="327">segredos aos</text>
<text x="250" y="343">roubou</text><text x="250" y="357">néctar e ambrosia</text><text x="250" y="372">dos deuses para os</text><text x="375" y="303">sacrificou e</text><text x="375" y="317">ofereceu como</text><text x="375" y="332">iguaria aos deuses</text><text x="454" y="267">gerou</text>
<text x="74" y="470">acusava-o pelo</text><text x="74" y="485">rapto de seu</text><text x="74" y="499">filho Ganimedes</text><text x="354" y="468">comeu uma espádua de</text><text x="376" y="507">identificaram</text><text x="376" y="522">e recompuseram</text><text x="119" y="567">fora de si por causa</text><text x="119" y="581">do sequestro de</text>
<text x="434" y="578">fundador?</text><text x="286" y="654">eram</text><text x="147" y="747">em homenagem a</text><text x="558" y="693">disputa</text><text x="558" y="708">para ter</text><text x="623" y="691">apaixonada</text><text x="623" y="706">por</text><text x="378" y="716">aceitou o</text><text x="378" y="731">desafio de</text><text x="730" y="730">jogou</text><text x="730" y="744">ao mar</text><text x="791" y="706">amaldiçoou</text>
<text x="433" y="774">filha de</text><text x="472" y="800">sempre</text><text x="472" y="814">deixava o competidor</text><text x="472" y="829">tomar a dianteira</text><text x="131" y="817">reinou após</text><text x="131" y="831">Enômao</text><text x="725" y="806">corrompeu</text><text x="646" y="847">quem vencer</text><text x="646" y="861">numa corrida de</text><text x="646" y="876">carros desposará</text>
<text x="461" y="904">sempre vencia e</text><text x="461" y="918">matava os pretendentes</text><text x="461" y="933">antes de atingir</text><text x="678" y="1041">morreu por</text><text x="678" y="1056">causa de</text><text x="155" y="882">rei</text><text x="155" y="896">de</text><text x="253" y="929">filho de</text><text x="339" y="947">tinha</text><text x="393" y="1049">filha do Deus-rio</text><text x="755" y="914">serrou Eixo</text><text x="755" y="929">do carro de</text>
<text x="133" y="1019">fundador</text><text x="133" y="1033">de</text><text x="403" y="1139">liberou a frota</text><text x="403" y="1153">para partir</text><text x="561" y="1197">resolvida pelo</text><text x="637" y="1243">devido a</text><text x="731" y="1120">devido a promessa</text><text x="731" y="1134">não cumprida do</text><text x="731" y="1149">sacrifício do carneiro</text>
<text x="861" y="1358">devido ao seu orgulho</text><text x="861" y="1373">ferido e a soberba de</text><text x="922" y="1299">sacrificada por ordem</text><text x="922" y="1313">de Agamêmnon como</text><text x="922" y="1328">produto mais belo do ano</text><text x="971" y="1479">reinava sobre</text><text x="1096" y="1432">a princípio ignoravam</text><text x="1096" y="1446">o acesso a Tróia</text><text x="833" y="1518">comandante supremo</text><text x="833" y="1533">dos exercitos gregos contra Tróia</text><text x="943" y="1559">era o lider</text>
<text x="482" y="1397">príncipe</text><text x="482" y="1412">de</text><text x="96" y="1258">herdou flechas de</text><text x="217" y="1252">não seguiu</text><text x="217" y="1267">para</text><text x="84" y="1364">mordido por</text><text x="84" y="1378">cobra em Tênedos</text><text x="251" y="1369">Agamêmnon o deixou</text><text x="251" y="1384">em Lemnos a conselho de</text><text x="87" y="1497">exalava</text>
<text x="145" y="1730">tentaram</text><text x="145" y="1744">convencer para</text><text x="145" y="1759">que retornasse</text><text x="457" y="1467">enviou sobre</text><text x="457" y="1482">o exercito grego</text><text x="575" y="1582">contra o</text><text x="495" y="1610">chamou uma</text><text x="495" y="1625">assembleia</text><text x="495" y="1639">por causa da</text><text x="495" y="1654">Peste</text><text x="533" y="1724">dissensão com</text>
<text x="218" y="1810">escrava</text><text x="218" y="1825">de</text><text x="108" y="1886">eram</text><text x="242" y="1883">escrava</text><text x="242" y="1898">de</text><text x="230" y="1963">devolve, mas</text><text x="230" y="1978">cativa Briselda</text><text x="458" y="1957">suplicou pela libertação</text><text x="458" y="1972">da filha, negada por</text>
<text x="705" y="1988">Envia sonho</text><text x="705" y="2002">para confundir</text><text x="602" y="2033">mãe de</text><text x="609" y="2138">pede</text><text x="609" y="2152">reparação</text><text x="763" y="2204">concede</text><text x="763" y="2218">momentaneamente</text><text x="679" y="2269">favorece</text><text x="901" y="2274">era</text><text x="571" y="2311">rei de</text><text x="723" y="2328">relações com</text><text x="723" y="2343">diversas</text>
<text x="1015" y="2335">geraram</text><text x="256" y="2426">matou</text><text x="375" y="2234">desejo</text><text x="375" y="2248">alucinado</text><text x="375" y="2263">de vingança</text><text x="448" y="2314">matou</text><text x="305" y="2063">returou-se</text><text x="305" y="2077">do Combate</text><text x="87" y="2015">filha de</text><text x="75" y="2308">revestido com</text><text x="75" y="2323">as armas de</text><text x="80" y="2475">passou dos</text><text x="80" y="2490">limites</text>
<text x="837" y="1852">diz que é necessário</text><text x="837" y="1867">entregar Criseida</text><text x="832" y="2001">e</text><text x="914" y="1966">previu</text><text x="1136" y="1612">ouviu</text><text x="1001" y="1764">tentou uma</text><text x="1001" y="1779">reconciliação</text><text x="1224" y="2092">cativa e</text><text x="1224" y="2107">amante após</text><text x="1224" y="2122">o final da guerra</text><text x="1346" y="2101">geraram</text><text x="1346" y="2115">gêmeos</text>
<text x="1288" y="1667">Refugiou-se após</text><text x="1288" y="1682">a morte de Tântalo</text><text x="1288" y="1697">na corte de</text><text x="1478" y="1680">perseguiram</text><text x="1554" y="1797">filhas de</text><text x="1547" y="1870">reseitaria a</text><text x="1547" y="1885">decisão de</text><text x="1415" y="1875">Se o escolhido fosse</text><text x="1415" y="1890">atacado, seria socorrido</text><text x="1684" y="1995">possuia</text><text x="1684" y="2009">muitos</text><text x="1287" y="1890">ressuscitado</text><text x="1287" y="1904">por</text><text x="1155" y="1987">Raptou</text><text x="1689" y="1779">eram</text><text x="1815" y="1837">irmãos</text><text x="1905" y="2090">escolheu</text><text x="1216" y="1353">geraram</text>
<text x="874" y="161">condenado</text><text x="861" y="200">lançado no</text><text x="1024" y="90">mergulhado até</text><text x="1024" y="105">o pescoço em água fresca</text><text x="872" y="278">em prantos</text><text x="872" y="292">se refugiou</text><text x="983" y="314">transformada em</text><text x="983" y="329">rochedo e continua a</text><text x="983" y="343">derramar lágrimas</text><text x="940" y="384">casada</text><text x="940" y="398">com</text><text x="864" y="453">se orgulhava</text><text x="864" y="468">e se dia superior a</text><text x="867" y="571">pediu aos filhos</text><text x="1084" y="472">mataram</text><text x="996" y="568">que tinha</text><text x="996" y="582">tido</text>
<text x="1215" y="587">envolvido na</text><text x="1215" y="602">pederastia mítica</text><text x="1215" y="616">com</text><text x="1224" y="679">assassinaram</text><text x="1369" y="647">ordenou-o</text><text x="1369" y="662">matar Tieste</text><text x="1524" y="645">descobriu a tempo</text><text x="1524" y="659">que Tieste era o pai e retornou</text><text x="1524" y="674">a Micenas, onde matou</text><text x="1488" y="721">foi para Micenas</text><text x="1488" y="736">e casou com</text><text x="1481" y="528">usou e se</text><text x="1481" y="542">trespassou</text><text x="959" y="720">geraram</text>
<text x="1896" y="394">alimentado com</text><text x="1783" y="428">tentou usar</text><text x="1783" y="443">para matar</text><text x="1783" y="457">Tieste</text><text x="1702" y="491">guardou</text><text x="1791" y="583">gerou</text><text x="1787" y="630">a conselho de</text><text x="1787" y="644">um oráculo,</text><text x="1787" y="659">geraram</text><text x="1890" y="647">entregou o</text><text x="1890" y="662">Trono a</text><text x="1828" y="774">geraram</text><text x="1644" y="749">estuprou</text><text x="1749" y="853">filhos com</text>
<text x="1739" y="1216">após mostrar as</text><text x="1739" y="1230">cabeças dos filhos,</text><text x="1739" y="1245">Atreu baniu</text><text x="1739" y="1354">com carne de 3 filhos</text><text x="1629" y="945">refugiaram-se</text><text x="1629" y="959">e depois disputaram o</text><text x="1528" y="1046">quem tivesse um</text><text x="1528" y="1061">ocuparia o</text><text x="1390" y="946">roubou e deu</text><text x="1390" y="960">a Tieste</text><text x="1181" y="838">casado</text><text x="1181" y="853">com</text><text x="1443" y="851">amantes</text><text x="1248" y="1245">soube da traição</text><text x="1248" y="1260">de</text><text x="1368" y="1269">fingiu uma</text><text x="1368" y="1283">reconciliação</text><text x="1368" y="1298">através de um</text>
<text x="1012" y="942">encontrou</text><text x="1071" y="1035">Atreu</text><text x="1071" y="1049">cortou</text><text x="858" y="920">era</text><text x="847" y="1103">aconselhou</text><text x="847" y="1118">fazer contra</text><text x="847" y="1132">proposta</text><text x="941" y="1252">através</text><text x="941" y="1266">de</text><text x="1375" y="1116">SOL voltou</text><text x="1375" y="1130">para o nascente e</text><text x="1375" y="1145">Atreu ficou com</text>
<text x="2005" y="1518">matou</text><text x="2086" y="1567">casados</text><text x="1645" y="1539">sacrifício de Ifigênia</text><text x="1645" y="1553">piorou a desamor</text><text x="1781" y="1584">casou contra</text><text x="1781" y="1599">a vontade com</text><text x="1992" y="1708">geraram</text><text x="2215" y="1748">????</text><text x="2054" y="1835">substituida</text><text x="2054" y="1850">pelos poetas</text><text x="2054" y="1865">trágicos por</text><text x="2417" y="1726">salvou enviando</text><text x="2417" y="1742">para a Fócida</text><text x="2386" y="1467">vinga e mata</text><text x="2299" y="893">tornaram-se</text><text x="2299" y="908">amantes</text>
<text x="2347" y="570">pode ter</text><text x="2347" y="584">participado</text><text x="2347" y="599">do massacre matando</text><text x="2347" y="613">Cassandra</text><text x="2180" y="430">ofereceu banquete</text><text x="2180" y="445">de reconciliação</text><text x="2180" y="459">(fingimento)</text><text x="2215" y="355">matou junto</text><text x="2215" y="369">com 20 homens</text>
<text x="2509" y="697">disse que Orestes</text><text x="2509" y="711">deveria ir na Ásia Menor</text><text x="2509" y="726">Descobrir e apossar-se da</text><text x="2450" y="895">perguntou o que</text><text x="2450" y="909">fazer após o</text><text x="2450" y="924">julgamento p/</text><text x="2735" y="957">libertou Orestes</text><text x="2735" y="971">das</text><text x="2708" y="1125">tribunal que</text><text x="2708" y="1140">julga</text><text x="2825" y="1167">Átena presidia</text><text x="2825" y="1182">o tribunal</text><text x="2825" y="1196">(pró-Orestes)</text>
<text x="2440" y="1375">envolvem</text><text x="2440" y="1389">após morte</text><text x="2440" y="1404">da mãe</text><text x="2494" y="1291">busca</text><text x="2494" y="1305">asilo</text><text x="2581" y="1243">purifica, mas</text><text x="2581" y="1258">não evita as Erínias</text><text x="2603" y="1361">julgado no</text><text x="2653" y="1434">enganou Clitemnestra</text><text x="2653" y="1448">e Egisto</text><text x="2599" y="1518">o vingador de</text><text x="2599" y="1533">Agamêmnon</text><text x="2511" y="1603">criado como</text><text x="2511" y="1618">filho por</text><text x="2652" y="1601">grande amizade e</text><text x="2652" y="1615">lembra que Apolo</text><text x="2652" y="1630">ordenara</text><text x="2570" y="1758">geraram</text>
<text x="1688" y="115">origem</text><text x="1836" y="119">Animal se aproxima</text><text x="1836" y="133">sem fazer mal</text><text x="2014" y="154">habilitação</text><text x="2226" y="123">usados para</text><text x="1855" y="238">é um</text><text x="1929" y="274">deveria perecer</text><text x="1877" y="298">alimentado por</text>
<text x="2387" y="1974">podendo ser</text><text x="2507" y="2016">substituição do</text><text x="2507" y="2031">VELHO</text><text x="2704" y="2021">função de</text><text x="2997" y="2094">manutenção</text><text x="2997" y="2108">de</text><text x="2590" y="2102">desejo</text><text x="2590" y="2116">de</text><text x="2499" y="2103">libido</text><text x="2499" y="2118">reprimida</text><text x="2499" y="2133">(ciúmes)</text><text x="2397" y="2128">impaciencia de</text><text x="2397" y="2142">suportar a tutela do</text><text x="2314" y="2173">mata</text><text x="2659" y="2224">cumprimento</text><text x="2659" y="2238">de</text><text x="2682" y="2280">atenuantes</text><text x="2682" y="2295">adicionados</text><text x="2356" y="2304">era</text><text x="2495" y="2352">em</text>
</svg>
</body></html>
